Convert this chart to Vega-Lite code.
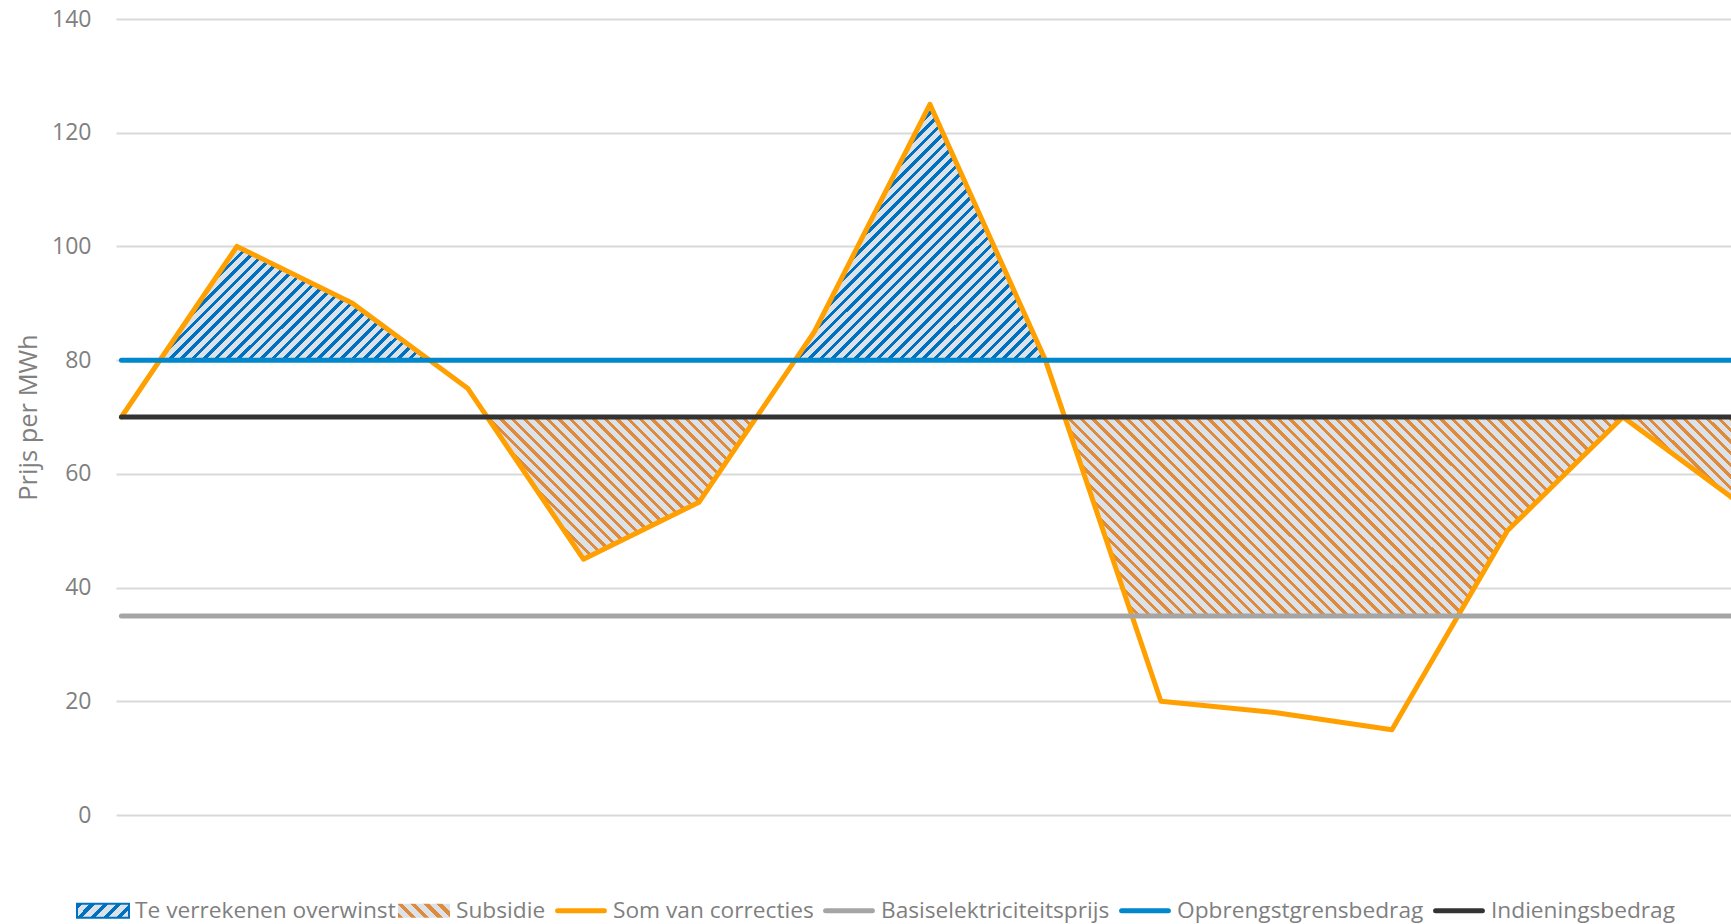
{
"$schema":"https://vega.github.io/schema/vega-lite/v6.json",
"width":1615,"height":796,
"autosize":{"type":"none"},
"padding":{"left":116,"top":19,"right":0,"bottom":109},
"background":"white",
"config":{
"view":{"stroke":null},
"font":"Open Sans",
"axis":{"domain":false,"ticks":false,"gridColor":"#d9d9d9","gridWidth":2,"labelFont":"Open Sans","labelFontSize":23,"labelColor":"#808080","labelPadding":25,"titleFont":"Open Sans","titleFontSize":25.5,"titleFontWeight":"normal","titleColor":"#808080"},
"legend":{"labelFont":"Open Sans","labelFontSize":22.7,"labelColor":"#7f7f7f","labelLimit":0,"symbolSize":2704,"symbolStrokeWidth":5,"labelOffset":35.3,"columnPadding":1}
},
"datasets":{
"lines":[
{"x":1,"y":70,"s":"Som van correcties"},{"x":2,"y":100,"s":"Som van correcties"},{"x":3,"y":90,"s":"Som van correcties"},{"x":4,"y":75,"s":"Som van correcties"},{"x":5,"y":45,"s":"Som van correcties"},{"x":6,"y":55,"s":"Som van correcties"},{"x":7,"y":85,"s":"Som van correcties"},{"x":8,"y":125,"s":"Som van correcties"},{"x":9,"y":80,"s":"Som van correcties"},{"x":10,"y":20,"s":"Som van correcties"},{"x":11,"y":18,"s":"Som van correcties"},{"x":12,"y":15,"s":"Som van correcties"},{"x":13,"y":50,"s":"Som van correcties"},{"x":14,"y":70,"s":"Som van correcties"},{"x":15,"y":55,"s":"Som van correcties"},
{"x":1,"y":35,"s":"Basiselektriciteitsprijs"},{"x":15,"y":35,"s":"Basiselektriciteitsprijs"},
{"x":1,"y":80,"s":"Opbrengstgrensbedrag"},{"x":15,"y":80,"s":"Opbrengstgrensbedrag"},
{"x":1,"y":70,"s":"Indieningsbedrag"},{"x":15,"y":70,"s":"Indieningsbedrag"}
],
"overwinst":[{"x":1.333,"y":80,"b":80},{"x":2,"y":100,"b":80},{"x":3,"y":90,"b":80},{"x":3.667,"y":80,"b":80},{"x":6.833,"y":80,"b":80},{"x":7,"y":85,"b":80},{"x":8,"y":125,"b":80},{"x":9,"y":80,"b":80}],
"subsidie":[{"x":4.167,"y":70,"b":70},{"x":5,"y":45,"b":70},{"x":6,"y":55,"b":70},{"x":6.5,"y":70,"b":70},{"x":9.167,"y":70,"b":70},{"x":9.75,"y":35,"b":70},{"x":12.571,"y":35,"b":70},{"x":13,"y":50,"b":70},{"x":14,"y":70,"b":70},{"x":15,"y":55,"b":70}]
},
"encoding":{
"x":{"field":"x","type":"quantitative","scale":{"domain":[0.953,14.936],"nice":false,"zero":false},"axis":null},
"y":{"field":"y","type":"quantitative","scale":{"domain":[0,140],"nice":false},"title":"Prijs per MWh","axis":{"values":[0,20,40,60,80,100,120,140],"grid":true,"titleX":-88,"titleY":398,"titleAngle":270,"titleBaseline":"middle","titleAlign":"center"}}
},
"layer":[
{"data":{"name":"subsidie"},"mark":{"type":"area","interpolate":"linear","opacity":1,"fill":{"gradient":"linear","x1":0,"y1":1,"x2":1.1306,"y2":0.82,"stops":[
{"offset":0,"color":"#df8b3b"},{"offset":0.003,"color":"#df8b3b"},{"offset":0.003,"color":"#dce2e9"},{"offset":0.008,"color":"#dce2e9"},
{"offset":0.008,"color":"#df8b3b"},{"offset":0.011,"color":"#df8b3b"},{"offset":0.011,"color":"#dce2e9"},{"offset":0.016,"color":"#dce2e9"},
{"offset":0.016,"color":"#df8b3b"},{"offset":0.019,"color":"#df8b3b"},{"offset":0.019,"color":"#dce2e9"},{"offset":0.024,"color":"#dce2e9"},
{"offset":0.024,"color":"#df8b3b"},{"offset":0.027,"color":"#df8b3b"},{"offset":0.027,"color":"#dce2e9"},{"offset":0.032,"color":"#dce2e9"},
{"offset":0.032,"color":"#df8b3b"},{"offset":0.035,"color":"#df8b3b"},{"offset":0.035,"color":"#dce2e9"},{"offset":0.04,"color":"#dce2e9"},
{"offset":0.04,"color":"#df8b3b"},{"offset":0.043,"color":"#df8b3b"},{"offset":0.043,"color":"#dce2e9"},{"offset":0.048,"color":"#dce2e9"},
{"offset":0.048,"color":"#df8b3b"},{"offset":0.051,"color":"#df8b3b"},{"offset":0.051,"color":"#dce2e9"},{"offset":0.056,"color":"#dce2e9"},
{"offset":0.056,"color":"#df8b3b"},{"offset":0.059,"color":"#df8b3b"},{"offset":0.059,"color":"#dce2e9"},{"offset":0.064,"color":"#dce2e9"},
{"offset":0.064,"color":"#df8b3b"},{"offset":0.067,"color":"#df8b3b"},{"offset":0.067,"color":"#dce2e9"},{"offset":0.072,"color":"#dce2e9"},
{"offset":0.072,"color":"#df8b3b"},{"offset":0.075,"color":"#df8b3b"},{"offset":0.075,"color":"#dce2e9"},{"offset":0.08,"color":"#dce2e9"},
{"offset":0.08,"color":"#df8b3b"},{"offset":0.083,"color":"#df8b3b"},{"offset":0.083,"color":"#dce2e9"},{"offset":0.088,"color":"#dce2e9"},
{"offset":0.088,"color":"#df8b3b"},{"offset":0.091,"color":"#df8b3b"},{"offset":0.091,"color":"#dce2e9"},{"offset":0.096,"color":"#dce2e9"},
{"offset":0.096,"color":"#df8b3b"},{"offset":0.099,"color":"#df8b3b"},{"offset":0.099,"color":"#dce2e9"},{"offset":0.104,"color":"#dce2e9"},
{"offset":0.104,"color":"#df8b3b"},{"offset":0.107,"color":"#df8b3b"},{"offset":0.107,"color":"#dce2e9"},{"offset":0.112,"color":"#dce2e9"},
{"offset":0.112,"color":"#df8b3b"},{"offset":0.115,"color":"#df8b3b"},{"offset":0.115,"color":"#dce2e9"},{"offset":0.12,"color":"#dce2e9"},
{"offset":0.12,"color":"#df8b3b"},{"offset":0.123,"color":"#df8b3b"},{"offset":0.123,"color":"#dce2e9"},{"offset":0.128,"color":"#dce2e9"},
{"offset":0.128,"color":"#df8b3b"},{"offset":0.131,"color":"#df8b3b"},{"offset":0.131,"color":"#dce2e9"},{"offset":0.136,"color":"#dce2e9"},
{"offset":0.136,"color":"#df8b3b"},{"offset":0.139,"color":"#df8b3b"},{"offset":0.139,"color":"#dce2e9"},{"offset":0.144,"color":"#dce2e9"},
{"offset":0.144,"color":"#df8b3b"},{"offset":0.147,"color":"#df8b3b"},{"offset":0.147,"color":"#dce2e9"},{"offset":0.152,"color":"#dce2e9"},
{"offset":0.152,"color":"#df8b3b"},{"offset":0.155,"color":"#df8b3b"},{"offset":0.155,"color":"#dce2e9"},{"offset":0.16,"color":"#dce2e9"},
{"offset":0.16,"color":"#df8b3b"},{"offset":0.163,"color":"#df8b3b"},{"offset":0.163,"color":"#dce2e9"},{"offset":0.168,"color":"#dce2e9"},
{"offset":0.168,"color":"#df8b3b"},{"offset":0.171,"color":"#df8b3b"},{"offset":0.171,"color":"#dce2e9"},{"offset":0.176,"color":"#dce2e9"},
{"offset":0.176,"color":"#df8b3b"},{"offset":0.179,"color":"#df8b3b"},{"offset":0.179,"color":"#dce2e9"},{"offset":0.184,"color":"#dce2e9"},
{"offset":0.184,"color":"#df8b3b"},{"offset":0.187,"color":"#df8b3b"},{"offset":0.187,"color":"#dce2e9"},{"offset":0.192,"color":"#dce2e9"},
{"offset":0.192,"color":"#df8b3b"},{"offset":0.195,"color":"#df8b3b"},{"offset":0.195,"color":"#dce2e9"},{"offset":0.2,"color":"#dce2e9"},
{"offset":0.2,"color":"#df8b3b"},{"offset":0.203,"color":"#df8b3b"},{"offset":0.203,"color":"#dce2e9"},{"offset":0.208,"color":"#dce2e9"},
{"offset":0.208,"color":"#df8b3b"},{"offset":0.211,"color":"#df8b3b"},{"offset":0.211,"color":"#dce2e9"},{"offset":0.216,"color":"#dce2e9"},
{"offset":0.216,"color":"#df8b3b"},{"offset":0.219,"color":"#df8b3b"},{"offset":0.219,"color":"#dce2e9"},{"offset":0.224,"color":"#dce2e9"},
{"offset":0.224,"color":"#df8b3b"},{"offset":0.227,"color":"#df8b3b"},{"offset":0.227,"color":"#dce2e9"},{"offset":0.232,"color":"#dce2e9"},
{"offset":0.232,"color":"#df8b3b"},{"offset":0.235,"color":"#df8b3b"},{"offset":0.235,"color":"#dce2e9"},{"offset":0.24,"color":"#dce2e9"},
{"offset":0.24,"color":"#df8b3b"},{"offset":0.243,"color":"#df8b3b"},{"offset":0.243,"color":"#dce2e9"},{"offset":0.248,"color":"#dce2e9"},
{"offset":0.248,"color":"#df8b3b"},{"offset":0.251,"color":"#df8b3b"},{"offset":0.251,"color":"#dce2e9"},{"offset":0.256,"color":"#dce2e9"},
{"offset":0.256,"color":"#df8b3b"},{"offset":0.259,"color":"#df8b3b"},{"offset":0.259,"color":"#dce2e9"},{"offset":0.264,"color":"#dce2e9"},
{"offset":0.264,"color":"#df8b3b"},{"offset":0.267,"color":"#df8b3b"},{"offset":0.267,"color":"#dce2e9"},{"offset":0.272,"color":"#dce2e9"},
{"offset":0.272,"color":"#df8b3b"},{"offset":0.275,"color":"#df8b3b"},{"offset":0.275,"color":"#dce2e9"},{"offset":0.28,"color":"#dce2e9"},
{"offset":0.28,"color":"#df8b3b"},{"offset":0.283,"color":"#df8b3b"},{"offset":0.283,"color":"#dce2e9"},{"offset":0.288,"color":"#dce2e9"},
{"offset":0.288,"color":"#df8b3b"},{"offset":0.291,"color":"#df8b3b"},{"offset":0.291,"color":"#dce2e9"},{"offset":0.296,"color":"#dce2e9"},
{"offset":0.296,"color":"#df8b3b"},{"offset":0.299,"color":"#df8b3b"},{"offset":0.299,"color":"#dce2e9"},{"offset":0.304,"color":"#dce2e9"},
{"offset":0.304,"color":"#df8b3b"},{"offset":0.307,"color":"#df8b3b"},{"offset":0.307,"color":"#dce2e9"},{"offset":0.312,"color":"#dce2e9"},
{"offset":0.312,"color":"#df8b3b"},{"offset":0.315,"color":"#df8b3b"},{"offset":0.315,"color":"#dce2e9"},{"offset":0.32,"color":"#dce2e9"},
{"offset":0.32,"color":"#df8b3b"},{"offset":0.323,"color":"#df8b3b"},{"offset":0.323,"color":"#dce2e9"},{"offset":0.328,"color":"#dce2e9"},
{"offset":0.328,"color":"#df8b3b"},{"offset":0.331,"color":"#df8b3b"},{"offset":0.331,"color":"#dce2e9"},{"offset":0.336,"color":"#dce2e9"},
{"offset":0.336,"color":"#df8b3b"},{"offset":0.339,"color":"#df8b3b"},{"offset":0.339,"color":"#dce2e9"},{"offset":0.344,"color":"#dce2e9"},
{"offset":0.344,"color":"#df8b3b"},{"offset":0.347,"color":"#df8b3b"},{"offset":0.347,"color":"#dce2e9"},{"offset":0.352,"color":"#dce2e9"},
{"offset":0.352,"color":"#df8b3b"},{"offset":0.355,"color":"#df8b3b"},{"offset":0.355,"color":"#dce2e9"},{"offset":0.36,"color":"#dce2e9"},
{"offset":0.36,"color":"#df8b3b"},{"offset":0.363,"color":"#df8b3b"},{"offset":0.363,"color":"#dce2e9"},{"offset":0.368,"color":"#dce2e9"},
{"offset":0.368,"color":"#df8b3b"},{"offset":0.371,"color":"#df8b3b"},{"offset":0.371,"color":"#dce2e9"},{"offset":0.376,"color":"#dce2e9"},
{"offset":0.376,"color":"#df8b3b"},{"offset":0.379,"color":"#df8b3b"},{"offset":0.379,"color":"#dce2e9"},{"offset":0.384,"color":"#dce2e9"},
{"offset":0.384,"color":"#df8b3b"},{"offset":0.387,"color":"#df8b3b"},{"offset":0.387,"color":"#dce2e9"},{"offset":0.392,"color":"#dce2e9"},
{"offset":0.392,"color":"#df8b3b"},{"offset":0.395,"color":"#df8b3b"},{"offset":0.395,"color":"#dce2e9"},{"offset":0.4,"color":"#dce2e9"},
{"offset":0.4,"color":"#df8b3b"},{"offset":0.403,"color":"#df8b3b"},{"offset":0.403,"color":"#dce2e9"},{"offset":0.408,"color":"#dce2e9"},
{"offset":0.408,"color":"#df8b3b"},{"offset":0.411,"color":"#df8b3b"},{"offset":0.411,"color":"#dce2e9"},{"offset":0.416,"color":"#dce2e9"},
{"offset":0.416,"color":"#df8b3b"},{"offset":0.419,"color":"#df8b3b"},{"offset":0.419,"color":"#dce2e9"},{"offset":0.424,"color":"#dce2e9"},
{"offset":0.424,"color":"#df8b3b"},{"offset":0.427,"color":"#df8b3b"},{"offset":0.427,"color":"#dce2e9"},{"offset":0.432,"color":"#dce2e9"},
{"offset":0.432,"color":"#df8b3b"},{"offset":0.435,"color":"#df8b3b"},{"offset":0.435,"color":"#dce2e9"},{"offset":0.44,"color":"#dce2e9"},
{"offset":0.44,"color":"#df8b3b"},{"offset":0.443,"color":"#df8b3b"},{"offset":0.443,"color":"#dce2e9"},{"offset":0.448,"color":"#dce2e9"},
{"offset":0.448,"color":"#df8b3b"},{"offset":0.451,"color":"#df8b3b"},{"offset":0.451,"color":"#dce2e9"},{"offset":0.456,"color":"#dce2e9"},
{"offset":0.456,"color":"#df8b3b"},{"offset":0.459,"color":"#df8b3b"},{"offset":0.459,"color":"#dce2e9"},{"offset":0.464,"color":"#dce2e9"},
{"offset":0.464,"color":"#df8b3b"},{"offset":0.467,"color":"#df8b3b"},{"offset":0.467,"color":"#dce2e9"},{"offset":0.472,"color":"#dce2e9"},
{"offset":0.472,"color":"#df8b3b"},{"offset":0.475,"color":"#df8b3b"},{"offset":0.475,"color":"#dce2e9"},{"offset":0.48,"color":"#dce2e9"},
{"offset":0.48,"color":"#df8b3b"},{"offset":0.483,"color":"#df8b3b"},{"offset":0.483,"color":"#dce2e9"},{"offset":0.488,"color":"#dce2e9"},
{"offset":0.488,"color":"#df8b3b"},{"offset":0.491,"color":"#df8b3b"},{"offset":0.491,"color":"#dce2e9"},{"offset":0.496,"color":"#dce2e9"},
{"offset":0.496,"color":"#df8b3b"},{"offset":0.499,"color":"#df8b3b"},{"offset":0.499,"color":"#dce2e9"},{"offset":0.504,"color":"#dce2e9"},
{"offset":0.504,"color":"#df8b3b"},{"offset":0.507,"color":"#df8b3b"},{"offset":0.507,"color":"#dce2e9"},{"offset":0.512,"color":"#dce2e9"},
{"offset":0.512,"color":"#df8b3b"},{"offset":0.515,"color":"#df8b3b"},{"offset":0.515,"color":"#dce2e9"},{"offset":0.52,"color":"#dce2e9"},
{"offset":0.52,"color":"#df8b3b"},{"offset":0.523,"color":"#df8b3b"},{"offset":0.523,"color":"#dce2e9"},{"offset":0.528,"color":"#dce2e9"},
{"offset":0.528,"color":"#df8b3b"},{"offset":0.531,"color":"#df8b3b"},{"offset":0.531,"color":"#dce2e9"},{"offset":0.536,"color":"#dce2e9"},
{"offset":0.536,"color":"#df8b3b"},{"offset":0.539,"color":"#df8b3b"},{"offset":0.539,"color":"#dce2e9"},{"offset":0.544,"color":"#dce2e9"},
{"offset":0.544,"color":"#df8b3b"},{"offset":0.547,"color":"#df8b3b"},{"offset":0.547,"color":"#dce2e9"},{"offset":0.552,"color":"#dce2e9"},
{"offset":0.552,"color":"#df8b3b"},{"offset":0.555,"color":"#df8b3b"},{"offset":0.555,"color":"#dce2e9"},{"offset":0.56,"color":"#dce2e9"},
{"offset":0.56,"color":"#df8b3b"},{"offset":0.563,"color":"#df8b3b"},{"offset":0.563,"color":"#dce2e9"},{"offset":0.568,"color":"#dce2e9"},
{"offset":0.568,"color":"#df8b3b"},{"offset":0.571,"color":"#df8b3b"},{"offset":0.571,"color":"#dce2e9"},{"offset":0.576,"color":"#dce2e9"},
{"offset":0.576,"color":"#df8b3b"},{"offset":0.579,"color":"#df8b3b"},{"offset":0.579,"color":"#dce2e9"},{"offset":0.584,"color":"#dce2e9"},
{"offset":0.584,"color":"#df8b3b"},{"offset":0.587,"color":"#df8b3b"},{"offset":0.587,"color":"#dce2e9"},{"offset":0.592,"color":"#dce2e9"},
{"offset":0.592,"color":"#df8b3b"},{"offset":0.595,"color":"#df8b3b"},{"offset":0.595,"color":"#dce2e9"},{"offset":0.6,"color":"#dce2e9"},
{"offset":0.6,"color":"#df8b3b"},{"offset":0.603,"color":"#df8b3b"},{"offset":0.603,"color":"#dce2e9"},{"offset":0.608,"color":"#dce2e9"},
{"offset":0.608,"color":"#df8b3b"},{"offset":0.611,"color":"#df8b3b"},{"offset":0.611,"color":"#dce2e9"},{"offset":0.616,"color":"#dce2e9"},
{"offset":0.616,"color":"#df8b3b"},{"offset":0.619,"color":"#df8b3b"},{"offset":0.619,"color":"#dce2e9"},{"offset":0.624,"color":"#dce2e9"},
{"offset":0.624,"color":"#df8b3b"},{"offset":0.627,"color":"#df8b3b"},{"offset":0.627,"color":"#dce2e9"},{"offset":0.632,"color":"#dce2e9"},
{"offset":0.632,"color":"#df8b3b"},{"offset":0.635,"color":"#df8b3b"},{"offset":0.635,"color":"#dce2e9"},{"offset":0.64,"color":"#dce2e9"},
{"offset":0.64,"color":"#df8b3b"},{"offset":0.643,"color":"#df8b3b"},{"offset":0.643,"color":"#dce2e9"},{"offset":0.648,"color":"#dce2e9"},
{"offset":0.648,"color":"#df8b3b"},{"offset":0.651,"color":"#df8b3b"},{"offset":0.651,"color":"#dce2e9"},{"offset":0.656,"color":"#dce2e9"},
{"offset":0.656,"color":"#df8b3b"},{"offset":0.659,"color":"#df8b3b"},{"offset":0.659,"color":"#dce2e9"},{"offset":0.664,"color":"#dce2e9"},
{"offset":0.664,"color":"#df8b3b"},{"offset":0.667,"color":"#df8b3b"},{"offset":0.667,"color":"#dce2e9"},{"offset":0.672,"color":"#dce2e9"},
{"offset":0.672,"color":"#df8b3b"},{"offset":0.675,"color":"#df8b3b"},{"offset":0.675,"color":"#dce2e9"},{"offset":0.68,"color":"#dce2e9"},
{"offset":0.68,"color":"#df8b3b"},{"offset":0.683,"color":"#df8b3b"},{"offset":0.683,"color":"#dce2e9"},{"offset":0.688,"color":"#dce2e9"},
{"offset":0.688,"color":"#df8b3b"},{"offset":0.691,"color":"#df8b3b"},{"offset":0.691,"color":"#dce2e9"},{"offset":0.696,"color":"#dce2e9"},
{"offset":0.696,"color":"#df8b3b"},{"offset":0.699,"color":"#df8b3b"},{"offset":0.699,"color":"#dce2e9"},{"offset":0.704,"color":"#dce2e9"},
{"offset":0.704,"color":"#df8b3b"},{"offset":0.707,"color":"#df8b3b"},{"offset":0.707,"color":"#dce2e9"},{"offset":0.712,"color":"#dce2e9"},
{"offset":0.712,"color":"#df8b3b"},{"offset":0.715,"color":"#df8b3b"},{"offset":0.715,"color":"#dce2e9"},{"offset":0.72,"color":"#dce2e9"},
{"offset":0.72,"color":"#df8b3b"},{"offset":0.723,"color":"#df8b3b"},{"offset":0.723,"color":"#dce2e9"},{"offset":0.728,"color":"#dce2e9"},
{"offset":0.728,"color":"#df8b3b"},{"offset":0.731,"color":"#df8b3b"},{"offset":0.731,"color":"#dce2e9"},{"offset":0.736,"color":"#dce2e9"},
{"offset":0.736,"color":"#df8b3b"},{"offset":0.739,"color":"#df8b3b"},{"offset":0.739,"color":"#dce2e9"},{"offset":0.744,"color":"#dce2e9"},
{"offset":0.744,"color":"#df8b3b"},{"offset":0.747,"color":"#df8b3b"},{"offset":0.747,"color":"#dce2e9"},{"offset":0.752,"color":"#dce2e9"},
{"offset":0.752,"color":"#df8b3b"},{"offset":0.755,"color":"#df8b3b"},{"offset":0.755,"color":"#dce2e9"},{"offset":0.76,"color":"#dce2e9"},
{"offset":0.76,"color":"#df8b3b"},{"offset":0.763,"color":"#df8b3b"},{"offset":0.763,"color":"#dce2e9"},{"offset":0.768,"color":"#dce2e9"},
{"offset":0.768,"color":"#df8b3b"},{"offset":0.771,"color":"#df8b3b"},{"offset":0.771,"color":"#dce2e9"},{"offset":0.776,"color":"#dce2e9"},
{"offset":0.776,"color":"#df8b3b"},{"offset":0.779,"color":"#df8b3b"},{"offset":0.779,"color":"#dce2e9"},{"offset":0.784,"color":"#dce2e9"},
{"offset":0.784,"color":"#df8b3b"},{"offset":0.787,"color":"#df8b3b"},{"offset":0.787,"color":"#dce2e9"},{"offset":0.792,"color":"#dce2e9"},
{"offset":0.792,"color":"#df8b3b"},{"offset":0.795,"color":"#df8b3b"},{"offset":0.795,"color":"#dce2e9"},{"offset":0.8,"color":"#dce2e9"},
{"offset":0.8,"color":"#df8b3b"},{"offset":0.803,"color":"#df8b3b"},{"offset":0.803,"color":"#dce2e9"},{"offset":0.808,"color":"#dce2e9"},
{"offset":0.808,"color":"#df8b3b"},{"offset":0.811,"color":"#df8b3b"},{"offset":0.811,"color":"#dce2e9"},{"offset":0.816,"color":"#dce2e9"},
{"offset":0.816,"color":"#df8b3b"},{"offset":0.819,"color":"#df8b3b"},{"offset":0.819,"color":"#dce2e9"},{"offset":0.824,"color":"#dce2e9"},
{"offset":0.824,"color":"#df8b3b"},{"offset":0.827,"color":"#df8b3b"},{"offset":0.827,"color":"#dce2e9"},{"offset":0.832,"color":"#dce2e9"},
{"offset":0.832,"color":"#df8b3b"},{"offset":0.835,"color":"#df8b3b"},{"offset":0.835,"color":"#dce2e9"},{"offset":0.84,"color":"#dce2e9"},
{"offset":0.84,"color":"#df8b3b"},{"offset":0.843,"color":"#df8b3b"},{"offset":0.843,"color":"#dce2e9"},{"offset":0.848,"color":"#dce2e9"},
{"offset":0.848,"color":"#df8b3b"},{"offset":0.851,"color":"#df8b3b"},{"offset":0.851,"color":"#dce2e9"},{"offset":0.856,"color":"#dce2e9"},
{"offset":0.856,"color":"#df8b3b"},{"offset":0.859,"color":"#df8b3b"},{"offset":0.859,"color":"#dce2e9"},{"offset":0.864,"color":"#dce2e9"},
{"offset":0.864,"color":"#df8b3b"},{"offset":0.867,"color":"#df8b3b"},{"offset":0.867,"color":"#dce2e9"},{"offset":0.872,"color":"#dce2e9"},
{"offset":0.872,"color":"#df8b3b"},{"offset":0.875,"color":"#df8b3b"},{"offset":0.875,"color":"#dce2e9"},{"offset":0.88,"color":"#dce2e9"},
{"offset":0.88,"color":"#df8b3b"},{"offset":0.883,"color":"#df8b3b"},{"offset":0.883,"color":"#dce2e9"},{"offset":0.888,"color":"#dce2e9"},
{"offset":0.888,"color":"#df8b3b"},{"offset":0.891,"color":"#df8b3b"},{"offset":0.891,"color":"#dce2e9"},{"offset":0.896,"color":"#dce2e9"},
{"offset":0.896,"color":"#df8b3b"},{"offset":0.899,"color":"#df8b3b"},{"offset":0.899,"color":"#dce2e9"},{"offset":0.904,"color":"#dce2e9"},
{"offset":0.904,"color":"#df8b3b"},{"offset":0.907,"color":"#df8b3b"},{"offset":0.907,"color":"#dce2e9"},{"offset":0.912,"color":"#dce2e9"},
{"offset":0.912,"color":"#df8b3b"},{"offset":0.915,"color":"#df8b3b"},{"offset":0.915,"color":"#dce2e9"},{"offset":0.92,"color":"#dce2e9"},
{"offset":0.92,"color":"#df8b3b"},{"offset":0.923,"color":"#df8b3b"},{"offset":0.923,"color":"#dce2e9"},{"offset":0.928,"color":"#dce2e9"},
{"offset":0.928,"color":"#df8b3b"},{"offset":0.931,"color":"#df8b3b"},{"offset":0.931,"color":"#dce2e9"},{"offset":0.936,"color":"#dce2e9"},
{"offset":0.936,"color":"#df8b3b"},{"offset":0.939,"color":"#df8b3b"},{"offset":0.939,"color":"#dce2e9"},{"offset":0.944,"color":"#dce2e9"},
{"offset":0.944,"color":"#df8b3b"},{"offset":0.947,"color":"#df8b3b"},{"offset":0.947,"color":"#dce2e9"},{"offset":0.952,"color":"#dce2e9"},
{"offset":0.952,"color":"#df8b3b"},{"offset":0.955,"color":"#df8b3b"},{"offset":0.955,"color":"#dce2e9"},{"offset":0.96,"color":"#dce2e9"},
{"offset":0.96,"color":"#df8b3b"},{"offset":0.963,"color":"#df8b3b"},{"offset":0.963,"color":"#dce2e9"},{"offset":0.968,"color":"#dce2e9"},
{"offset":0.968,"color":"#df8b3b"},{"offset":0.971,"color":"#df8b3b"},{"offset":0.971,"color":"#dce2e9"},{"offset":0.976,"color":"#dce2e9"},
{"offset":0.976,"color":"#df8b3b"},{"offset":0.979,"color":"#df8b3b"},{"offset":0.979,"color":"#dce2e9"},{"offset":0.984,"color":"#dce2e9"},
{"offset":0.984,"color":"#df8b3b"},{"offset":0.987,"color":"#df8b3b"},{"offset":0.987,"color":"#dce2e9"},{"offset":0.992,"color":"#dce2e9"},
{"offset":0.992,"color":"#df8b3b"},{"offset":0.995,"color":"#df8b3b"},{"offset":0.995,"color":"#dce2e9"},{"offset":1,"color":"#dce2e9"}
]}},"encoding":{"y2":{"field":"b"}}},
{"data":{"name":"overwinst"},"mark":{"type":"area","interpolate":"linear","opacity":1,"fill":{"gradient":"linear","x1":0,"y1":0,"x2":1.1897,"y2":0.3441,"stops":[
{"offset":0,"color":"#0070c0"},{"offset":0.004,"color":"#0070c0"},{"offset":0.004,"color":"#dce2e9"},{"offset":0.01,"color":"#dce2e9"},
{"offset":0.01,"color":"#0070c0"},{"offset":0.014,"color":"#0070c0"},{"offset":0.014,"color":"#dce2e9"},{"offset":0.02,"color":"#dce2e9"},
{"offset":0.02,"color":"#0070c0"},{"offset":0.024,"color":"#0070c0"},{"offset":0.024,"color":"#dce2e9"},{"offset":0.03,"color":"#dce2e9"},
{"offset":0.03,"color":"#0070c0"},{"offset":0.034,"color":"#0070c0"},{"offset":0.034,"color":"#dce2e9"},{"offset":0.04,"color":"#dce2e9"},
{"offset":0.04,"color":"#0070c0"},{"offset":0.044,"color":"#0070c0"},{"offset":0.044,"color":"#dce2e9"},{"offset":0.05,"color":"#dce2e9"},
{"offset":0.05,"color":"#0070c0"},{"offset":0.054,"color":"#0070c0"},{"offset":0.054,"color":"#dce2e9"},{"offset":0.06,"color":"#dce2e9"},
{"offset":0.06,"color":"#0070c0"},{"offset":0.064,"color":"#0070c0"},{"offset":0.064,"color":"#dce2e9"},{"offset":0.07,"color":"#dce2e9"},
{"offset":0.07,"color":"#0070c0"},{"offset":0.074,"color":"#0070c0"},{"offset":0.074,"color":"#dce2e9"},{"offset":0.08,"color":"#dce2e9"},
{"offset":0.08,"color":"#0070c0"},{"offset":0.084,"color":"#0070c0"},{"offset":0.084,"color":"#dce2e9"},{"offset":0.09,"color":"#dce2e9"},
{"offset":0.09,"color":"#0070c0"},{"offset":0.094,"color":"#0070c0"},{"offset":0.094,"color":"#dce2e9"},{"offset":0.1,"color":"#dce2e9"},
{"offset":0.1,"color":"#0070c0"},{"offset":0.104,"color":"#0070c0"},{"offset":0.104,"color":"#dce2e9"},{"offset":0.11,"color":"#dce2e9"},
{"offset":0.11,"color":"#0070c0"},{"offset":0.114,"color":"#0070c0"},{"offset":0.114,"color":"#dce2e9"},{"offset":0.12,"color":"#dce2e9"},
{"offset":0.12,"color":"#0070c0"},{"offset":0.124,"color":"#0070c0"},{"offset":0.124,"color":"#dce2e9"},{"offset":0.13,"color":"#dce2e9"},
{"offset":0.13,"color":"#0070c0"},{"offset":0.134,"color":"#0070c0"},{"offset":0.134,"color":"#dce2e9"},{"offset":0.14,"color":"#dce2e9"},
{"offset":0.14,"color":"#0070c0"},{"offset":0.144,"color":"#0070c0"},{"offset":0.144,"color":"#dce2e9"},{"offset":0.15,"color":"#dce2e9"},
{"offset":0.15,"color":"#0070c0"},{"offset":0.154,"color":"#0070c0"},{"offset":0.154,"color":"#dce2e9"},{"offset":0.16,"color":"#dce2e9"},
{"offset":0.16,"color":"#0070c0"},{"offset":0.164,"color":"#0070c0"},{"offset":0.164,"color":"#dce2e9"},{"offset":0.17,"color":"#dce2e9"},
{"offset":0.17,"color":"#0070c0"},{"offset":0.174,"color":"#0070c0"},{"offset":0.174,"color":"#dce2e9"},{"offset":0.18,"color":"#dce2e9"},
{"offset":0.18,"color":"#0070c0"},{"offset":0.184,"color":"#0070c0"},{"offset":0.184,"color":"#dce2e9"},{"offset":0.19,"color":"#dce2e9"},
{"offset":0.19,"color":"#0070c0"},{"offset":0.194,"color":"#0070c0"},{"offset":0.194,"color":"#dce2e9"},{"offset":0.2,"color":"#dce2e9"},
{"offset":0.2,"color":"#0070c0"},{"offset":0.204,"color":"#0070c0"},{"offset":0.204,"color":"#dce2e9"},{"offset":0.21,"color":"#dce2e9"},
{"offset":0.21,"color":"#0070c0"},{"offset":0.214,"color":"#0070c0"},{"offset":0.214,"color":"#dce2e9"},{"offset":0.22,"color":"#dce2e9"},
{"offset":0.22,"color":"#0070c0"},{"offset":0.224,"color":"#0070c0"},{"offset":0.224,"color":"#dce2e9"},{"offset":0.23,"color":"#dce2e9"},
{"offset":0.23,"color":"#0070c0"},{"offset":0.234,"color":"#0070c0"},{"offset":0.234,"color":"#dce2e9"},{"offset":0.24,"color":"#dce2e9"},
{"offset":0.24,"color":"#0070c0"},{"offset":0.244,"color":"#0070c0"},{"offset":0.244,"color":"#dce2e9"},{"offset":0.25,"color":"#dce2e9"},
{"offset":0.25,"color":"#0070c0"},{"offset":0.254,"color":"#0070c0"},{"offset":0.254,"color":"#dce2e9"},{"offset":0.26,"color":"#dce2e9"},
{"offset":0.26,"color":"#0070c0"},{"offset":0.264,"color":"#0070c0"},{"offset":0.264,"color":"#dce2e9"},{"offset":0.27,"color":"#dce2e9"},
{"offset":0.27,"color":"#0070c0"},{"offset":0.274,"color":"#0070c0"},{"offset":0.274,"color":"#dce2e9"},{"offset":0.28,"color":"#dce2e9"},
{"offset":0.28,"color":"#0070c0"},{"offset":0.284,"color":"#0070c0"},{"offset":0.284,"color":"#dce2e9"},{"offset":0.29,"color":"#dce2e9"},
{"offset":0.29,"color":"#0070c0"},{"offset":0.294,"color":"#0070c0"},{"offset":0.294,"color":"#dce2e9"},{"offset":0.3,"color":"#dce2e9"},
{"offset":0.3,"color":"#0070c0"},{"offset":0.304,"color":"#0070c0"},{"offset":0.304,"color":"#dce2e9"},{"offset":0.31,"color":"#dce2e9"},
{"offset":0.31,"color":"#0070c0"},{"offset":0.314,"color":"#0070c0"},{"offset":0.314,"color":"#dce2e9"},{"offset":0.32,"color":"#dce2e9"},
{"offset":0.32,"color":"#0070c0"},{"offset":0.324,"color":"#0070c0"},{"offset":0.324,"color":"#dce2e9"},{"offset":0.33,"color":"#dce2e9"},
{"offset":0.33,"color":"#0070c0"},{"offset":0.334,"color":"#0070c0"},{"offset":0.334,"color":"#dce2e9"},{"offset":0.34,"color":"#dce2e9"},
{"offset":0.34,"color":"#0070c0"},{"offset":0.344,"color":"#0070c0"},{"offset":0.344,"color":"#dce2e9"},{"offset":0.35,"color":"#dce2e9"},
{"offset":0.35,"color":"#0070c0"},{"offset":0.354,"color":"#0070c0"},{"offset":0.354,"color":"#dce2e9"},{"offset":0.36,"color":"#dce2e9"},
{"offset":0.36,"color":"#0070c0"},{"offset":0.364,"color":"#0070c0"},{"offset":0.364,"color":"#dce2e9"},{"offset":0.37,"color":"#dce2e9"},
{"offset":0.37,"color":"#0070c0"},{"offset":0.374,"color":"#0070c0"},{"offset":0.374,"color":"#dce2e9"},{"offset":0.38,"color":"#dce2e9"},
{"offset":0.38,"color":"#0070c0"},{"offset":0.384,"color":"#0070c0"},{"offset":0.384,"color":"#dce2e9"},{"offset":0.39,"color":"#dce2e9"},
{"offset":0.39,"color":"#0070c0"},{"offset":0.394,"color":"#0070c0"},{"offset":0.394,"color":"#dce2e9"},{"offset":0.4,"color":"#dce2e9"},
{"offset":0.4,"color":"#0070c0"},{"offset":0.404,"color":"#0070c0"},{"offset":0.404,"color":"#dce2e9"},{"offset":0.41,"color":"#dce2e9"},
{"offset":0.41,"color":"#0070c0"},{"offset":0.414,"color":"#0070c0"},{"offset":0.414,"color":"#dce2e9"},{"offset":0.42,"color":"#dce2e9"},
{"offset":0.42,"color":"#0070c0"},{"offset":0.424,"color":"#0070c0"},{"offset":0.424,"color":"#dce2e9"},{"offset":0.43,"color":"#dce2e9"},
{"offset":0.43,"color":"#0070c0"},{"offset":0.434,"color":"#0070c0"},{"offset":0.434,"color":"#dce2e9"},{"offset":0.44,"color":"#dce2e9"},
{"offset":0.44,"color":"#0070c0"},{"offset":0.444,"color":"#0070c0"},{"offset":0.444,"color":"#dce2e9"},{"offset":0.45,"color":"#dce2e9"},
{"offset":0.45,"color":"#0070c0"},{"offset":0.454,"color":"#0070c0"},{"offset":0.454,"color":"#dce2e9"},{"offset":0.46,"color":"#dce2e9"},
{"offset":0.46,"color":"#0070c0"},{"offset":0.464,"color":"#0070c0"},{"offset":0.464,"color":"#dce2e9"},{"offset":0.47,"color":"#dce2e9"},
{"offset":0.47,"color":"#0070c0"},{"offset":0.474,"color":"#0070c0"},{"offset":0.474,"color":"#dce2e9"},{"offset":0.48,"color":"#dce2e9"},
{"offset":0.48,"color":"#0070c0"},{"offset":0.484,"color":"#0070c0"},{"offset":0.484,"color":"#dce2e9"},{"offset":0.49,"color":"#dce2e9"},
{"offset":0.49,"color":"#0070c0"},{"offset":0.494,"color":"#0070c0"},{"offset":0.494,"color":"#dce2e9"},{"offset":0.5,"color":"#dce2e9"},
{"offset":0.5,"color":"#0070c0"},{"offset":0.504,"color":"#0070c0"},{"offset":0.504,"color":"#dce2e9"},{"offset":0.51,"color":"#dce2e9"},
{"offset":0.51,"color":"#0070c0"},{"offset":0.514,"color":"#0070c0"},{"offset":0.514,"color":"#dce2e9"},{"offset":0.52,"color":"#dce2e9"},
{"offset":0.52,"color":"#0070c0"},{"offset":0.524,"color":"#0070c0"},{"offset":0.524,"color":"#dce2e9"},{"offset":0.53,"color":"#dce2e9"},
{"offset":0.53,"color":"#0070c0"},{"offset":0.534,"color":"#0070c0"},{"offset":0.534,"color":"#dce2e9"},{"offset":0.54,"color":"#dce2e9"},
{"offset":0.54,"color":"#0070c0"},{"offset":0.544,"color":"#0070c0"},{"offset":0.544,"color":"#dce2e9"},{"offset":0.55,"color":"#dce2e9"},
{"offset":0.55,"color":"#0070c0"},{"offset":0.554,"color":"#0070c0"},{"offset":0.554,"color":"#dce2e9"},{"offset":0.56,"color":"#dce2e9"},
{"offset":0.56,"color":"#0070c0"},{"offset":0.564,"color":"#0070c0"},{"offset":0.564,"color":"#dce2e9"},{"offset":0.57,"color":"#dce2e9"},
{"offset":0.57,"color":"#0070c0"},{"offset":0.574,"color":"#0070c0"},{"offset":0.574,"color":"#dce2e9"},{"offset":0.58,"color":"#dce2e9"},
{"offset":0.58,"color":"#0070c0"},{"offset":0.584,"color":"#0070c0"},{"offset":0.584,"color":"#dce2e9"},{"offset":0.59,"color":"#dce2e9"},
{"offset":0.59,"color":"#0070c0"},{"offset":0.594,"color":"#0070c0"},{"offset":0.594,"color":"#dce2e9"},{"offset":0.6,"color":"#dce2e9"},
{"offset":0.6,"color":"#0070c0"},{"offset":0.604,"color":"#0070c0"},{"offset":0.604,"color":"#dce2e9"},{"offset":0.61,"color":"#dce2e9"},
{"offset":0.61,"color":"#0070c0"},{"offset":0.614,"color":"#0070c0"},{"offset":0.614,"color":"#dce2e9"},{"offset":0.62,"color":"#dce2e9"},
{"offset":0.62,"color":"#0070c0"},{"offset":0.624,"color":"#0070c0"},{"offset":0.624,"color":"#dce2e9"},{"offset":0.63,"color":"#dce2e9"},
{"offset":0.63,"color":"#0070c0"},{"offset":0.634,"color":"#0070c0"},{"offset":0.634,"color":"#dce2e9"},{"offset":0.64,"color":"#dce2e9"},
{"offset":0.64,"color":"#0070c0"},{"offset":0.644,"color":"#0070c0"},{"offset":0.644,"color":"#dce2e9"},{"offset":0.65,"color":"#dce2e9"},
{"offset":0.65,"color":"#0070c0"},{"offset":0.654,"color":"#0070c0"},{"offset":0.654,"color":"#dce2e9"},{"offset":0.66,"color":"#dce2e9"},
{"offset":0.66,"color":"#0070c0"},{"offset":0.664,"color":"#0070c0"},{"offset":0.664,"color":"#dce2e9"},{"offset":0.67,"color":"#dce2e9"},
{"offset":0.67,"color":"#0070c0"},{"offset":0.674,"color":"#0070c0"},{"offset":0.674,"color":"#dce2e9"},{"offset":0.68,"color":"#dce2e9"},
{"offset":0.68,"color":"#0070c0"},{"offset":0.684,"color":"#0070c0"},{"offset":0.684,"color":"#dce2e9"},{"offset":0.69,"color":"#dce2e9"},
{"offset":0.69,"color":"#0070c0"},{"offset":0.694,"color":"#0070c0"},{"offset":0.694,"color":"#dce2e9"},{"offset":0.7,"color":"#dce2e9"},
{"offset":0.7,"color":"#0070c0"},{"offset":0.704,"color":"#0070c0"},{"offset":0.704,"color":"#dce2e9"},{"offset":0.71,"color":"#dce2e9"},
{"offset":0.71,"color":"#0070c0"},{"offset":0.714,"color":"#0070c0"},{"offset":0.714,"color":"#dce2e9"},{"offset":0.72,"color":"#dce2e9"},
{"offset":0.72,"color":"#0070c0"},{"offset":0.724,"color":"#0070c0"},{"offset":0.724,"color":"#dce2e9"},{"offset":0.73,"color":"#dce2e9"},
{"offset":0.73,"color":"#0070c0"},{"offset":0.734,"color":"#0070c0"},{"offset":0.734,"color":"#dce2e9"},{"offset":0.74,"color":"#dce2e9"},
{"offset":0.74,"color":"#0070c0"},{"offset":0.744,"color":"#0070c0"},{"offset":0.744,"color":"#dce2e9"},{"offset":0.75,"color":"#dce2e9"},
{"offset":0.75,"color":"#0070c0"},{"offset":0.754,"color":"#0070c0"},{"offset":0.754,"color":"#dce2e9"},{"offset":0.76,"color":"#dce2e9"},
{"offset":0.76,"color":"#0070c0"},{"offset":0.764,"color":"#0070c0"},{"offset":0.764,"color":"#dce2e9"},{"offset":0.77,"color":"#dce2e9"},
{"offset":0.77,"color":"#0070c0"},{"offset":0.774,"color":"#0070c0"},{"offset":0.774,"color":"#dce2e9"},{"offset":0.78,"color":"#dce2e9"},
{"offset":0.78,"color":"#0070c0"},{"offset":0.784,"color":"#0070c0"},{"offset":0.784,"color":"#dce2e9"},{"offset":0.79,"color":"#dce2e9"},
{"offset":0.79,"color":"#0070c0"},{"offset":0.794,"color":"#0070c0"},{"offset":0.794,"color":"#dce2e9"},{"offset":0.8,"color":"#dce2e9"},
{"offset":0.8,"color":"#0070c0"},{"offset":0.804,"color":"#0070c0"},{"offset":0.804,"color":"#dce2e9"},{"offset":0.81,"color":"#dce2e9"},
{"offset":0.81,"color":"#0070c0"},{"offset":0.814,"color":"#0070c0"},{"offset":0.814,"color":"#dce2e9"},{"offset":0.82,"color":"#dce2e9"},
{"offset":0.82,"color":"#0070c0"},{"offset":0.824,"color":"#0070c0"},{"offset":0.824,"color":"#dce2e9"},{"offset":0.83,"color":"#dce2e9"},
{"offset":0.83,"color":"#0070c0"},{"offset":0.834,"color":"#0070c0"},{"offset":0.834,"color":"#dce2e9"},{"offset":0.84,"color":"#dce2e9"},
{"offset":0.84,"color":"#0070c0"},{"offset":0.844,"color":"#0070c0"},{"offset":0.844,"color":"#dce2e9"},{"offset":0.85,"color":"#dce2e9"},
{"offset":0.85,"color":"#0070c0"},{"offset":0.854,"color":"#0070c0"},{"offset":0.854,"color":"#dce2e9"},{"offset":0.86,"color":"#dce2e9"},
{"offset":0.86,"color":"#0070c0"},{"offset":0.864,"color":"#0070c0"},{"offset":0.864,"color":"#dce2e9"},{"offset":0.87,"color":"#dce2e9"},
{"offset":0.87,"color":"#0070c0"},{"offset":0.874,"color":"#0070c0"},{"offset":0.874,"color":"#dce2e9"},{"offset":0.88,"color":"#dce2e9"},
{"offset":0.88,"color":"#0070c0"},{"offset":0.884,"color":"#0070c0"},{"offset":0.884,"color":"#dce2e9"},{"offset":0.89,"color":"#dce2e9"},
{"offset":0.89,"color":"#0070c0"},{"offset":0.894,"color":"#0070c0"},{"offset":0.894,"color":"#dce2e9"},{"offset":0.9,"color":"#dce2e9"},
{"offset":0.9,"color":"#0070c0"},{"offset":0.904,"color":"#0070c0"},{"offset":0.904,"color":"#dce2e9"},{"offset":0.91,"color":"#dce2e9"},
{"offset":0.91,"color":"#0070c0"},{"offset":0.914,"color":"#0070c0"},{"offset":0.914,"color":"#dce2e9"},{"offset":0.92,"color":"#dce2e9"},
{"offset":0.92,"color":"#0070c0"},{"offset":0.924,"color":"#0070c0"},{"offset":0.924,"color":"#dce2e9"},{"offset":0.93,"color":"#dce2e9"},
{"offset":0.93,"color":"#0070c0"},{"offset":0.934,"color":"#0070c0"},{"offset":0.934,"color":"#dce2e9"},{"offset":0.94,"color":"#dce2e9"},
{"offset":0.94,"color":"#0070c0"},{"offset":0.944,"color":"#0070c0"},{"offset":0.944,"color":"#dce2e9"},{"offset":0.95,"color":"#dce2e9"},
{"offset":0.95,"color":"#0070c0"},{"offset":0.954,"color":"#0070c0"},{"offset":0.954,"color":"#dce2e9"},{"offset":0.96,"color":"#dce2e9"},
{"offset":0.96,"color":"#0070c0"},{"offset":0.964,"color":"#0070c0"},{"offset":0.964,"color":"#dce2e9"},{"offset":0.97,"color":"#dce2e9"},
{"offset":0.97,"color":"#0070c0"},{"offset":0.974,"color":"#0070c0"},{"offset":0.974,"color":"#dce2e9"},{"offset":0.98,"color":"#dce2e9"},
{"offset":0.98,"color":"#0070c0"},{"offset":0.984,"color":"#0070c0"},{"offset":0.984,"color":"#dce2e9"},{"offset":0.99,"color":"#dce2e9"},
{"offset":0.99,"color":"#0070c0"},{"offset":0.994,"color":"#0070c0"},{"offset":0.994,"color":"#dce2e9"},{"offset":1,"color":"#dce2e9"}
]}},"encoding":{"y2":{"field":"b"}}},
{"data":{"name":"lines"},"mark":{"type":"line","strokeWidth":5,"strokeCap":"round","strokeJoin":"round"},
"encoding":{"color":{"field":"s","type":"nominal","sort":null,
"scale":{"domain":["Te verrekenen overwinst","Subsidie","Som van correcties","Basiselektriciteitsprijs","Opbrengstgrensbedrag","Indieningsbedrag"],"range":["#0070c0","#df8b3b","#ffa000","#a5a5a5","#0087cc","#333333"]},
"legend":{"title":null,"orient":"none","direction":"horizontal","legendX":-39,"legendY":880,"labelLimit":0,
"encode":{
"labels":{"update":{"text":{"signal":"datum.value == 'Te verrekenen overwinst' ? datum.value + '\u00a0' : datum.value"}}},
"symbols":{"update":{
"shape":{"signal":"datum.value == 'Te verrekenen overwinst' || datum.value == 'Subsidie' ? 'M-0.437,-0.27H1.563V0.27H-0.437Z' : 'M-0.337,0H1.463'"},
"size":{"value":2704},
"fill":{"signal":"datum.value == 'Te verrekenen overwinst' ? {gradient:'linear',x1:0,y1:0,x2:1.183,y2:0.319,stops:[{offset:0,color:'#0070c0'},{offset:0.08,color:'#0070c0'},{offset:0.08,color:'#dce2e9'},{offset:0.2,color:'#dce2e9'},{offset:0.2,color:'#0070c0'},{offset:0.28,color:'#0070c0'},{offset:0.28,color:'#dce2e9'},{offset:0.4,color:'#dce2e9'},{offset:0.4,color:'#0070c0'},{offset:0.48,color:'#0070c0'},{offset:0.48,color:'#dce2e9'},{offset:0.6,color:'#dce2e9'},{offset:0.6,color:'#0070c0'},{offset:0.68,color:'#0070c0'},{offset:0.68,color:'#dce2e9'},{offset:0.8,color:'#dce2e9'},{offset:0.8,color:'#0070c0'},{offset:0.88,color:'#0070c0'},{offset:0.88,color:'#dce2e9'},{offset:1,color:'#dce2e9'}]} : datum.value == 'Subsidie' ? {gradient:'linear',x1:0,y1:1,x2:1.183,y2:0.681,stops:[{offset:0,color:'#df8b3b'},{offset:0.08,color:'#df8b3b'},{offset:0.08,color:'#dce2e9'},{offset:0.2,color:'#dce2e9'},{offset:0.2,color:'#df8b3b'},{offset:0.28,color:'#df8b3b'},{offset:0.28,color:'#dce2e9'},{offset:0.4,color:'#dce2e9'},{offset:0.4,color:'#df8b3b'},{offset:0.48,color:'#df8b3b'},{offset:0.48,color:'#dce2e9'},{offset:0.6,color:'#dce2e9'},{offset:0.6,color:'#df8b3b'},{offset:0.68,color:'#df8b3b'},{offset:0.68,color:'#dce2e9'},{offset:0.8,color:'#dce2e9'},{offset:0.8,color:'#df8b3b'},{offset:0.88,color:'#df8b3b'},{offset:0.88,color:'#dce2e9'},{offset:1,color:'#dce2e9'}]} : 'transparent'"},
"stroke":{"signal":"datum.value == 'Te verrekenen overwinst' ? '#199b73' : datum.value == 'Subsidie' ? 'transparent' : datum.value == 'Som van correcties' ? '#ffa000' : datum.value == 'Basiselektriciteitsprijs' ? '#a5a5a5' : datum.value == 'Opbrengstgrensbedrag' ? '#0087cc' : '#333333'"},
"strokeWidth":{"signal":"datum.value == 'Te verrekenen overwinst' ? 2 : datum.value == 'Subsidie' ? 0 : 5"},
"strokeCap":{"value":"round"},
"opacity":{"value":1}
}}}}}}}
]
}
